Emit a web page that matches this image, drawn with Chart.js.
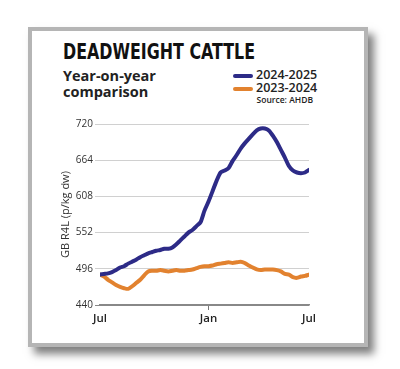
<!DOCTYPE html>
<html><head><meta charset="utf-8">
<script src="https://cdn.jsdelivr.net/npm/chart.js@4.4.1/dist/chart.umd.min.js"></script>
<style>
html,body{margin:0;padding:0;background:#fff;}
body{width:400px;height:369px;position:relative;overflow:hidden;font-family:"Open Sans",sans-serif;}
.card{position:absolute;left:28px;top:27px;width:340px;height:320px;box-sizing:border-box;border:4.5px solid #b5b5b5;background:#fff;box-shadow:6px 7px 8px rgba(0,0,0,0.5);}
#title{position:absolute;left:63px;top:40px;font-weight:bold;font-size:21px;font-family:"Liberation Sans Narrow","DejaVu Sans Condensed",sans-serif;color:#111;white-space:nowrap;transform-origin:0 0;line-height:24px;}
#sub{position:absolute;left:63px;top:68px;font-weight:bold;font-size:14.5px;font-family:"Open Sans",sans-serif;line-height:16px;color:#222;}
.lg{position:absolute;white-space:nowrap;color:#222;}
.sw{position:absolute;width:20px;height:4px;border-radius:2px;}
#src{position:absolute;right:87px;top:94px;font-size:8.5px;font-weight:600;color:#222;white-space:nowrap;}
#wrap{position:absolute;left:40px;top:110px;width:280px;height:225px;}
</style></head>
<body>
<div class="card"></div>
<div id="title">DEADWEIGHT CATTLE</div>
<div id="sub">Year-on-year<br>comparison</div>
<div id="legend"></div>
<div id="src">Source: AHDB</div>
<div id="wrap"><canvas id="c" width="280" height="225"></canvas></div>
<script>
const seriesNames = ['2024-2025', '2023-2024'];
const seriesColors = ['#2d2b87', '#e2822f'];
const xTickPos = [0, 27, 52];
const xTickLabels = ['Jul', 'Jan', 'Jul'];
const yTicks = [440, 496, 552, 608, 664, 720];
const values2425 = [487,488,489,491,494,498,500,504,507,510,514,517,520,522,524,525,527,527,529,534,540,546,552,556,562,568,586,600,616,632,645,648,652,663,672,682,690,697,704,710,713,713,710,702,692,680,668,655,648,645,644,645,649];
const values2324 = [487,484,479,475,471,468,466,465,469,474,479,486,492,493,493,494,493,492,493,494,493,493,494,495,497,499,500,500,501,503,504,505,506,505,506,507,505,501,498,495,494,495,495,495,494,492,488,487,483,482,484,485,487];

// legend
const lg = document.getElementById('legend');
seriesNames.forEach((n,i)=>{
  const top = 74 + i*13.3;
  const sw = document.createElement('div'); sw.className='sw';
  sw.style.left='233px'; sw.style.top=top+'px'; sw.style.background=seriesColors[i];
  lg.appendChild(sw);
  const t = document.createElement('div'); t.className='lg';
  t.style.left='256px'; t.style.top=(top-8)+'px'; t.style.fontSize='12.5px'; t.style.fontWeight='600';
  t.textContent=n; lg.appendChild(t);
});
// fit title width
const ti = document.getElementById('title');
const w = ti.getBoundingClientRect().width;
ti.style.transform = 'scaleX(' + (192/w) + ')';

const ctx = document.getElementById('c').getContext('2d');
new Chart(ctx, {
  type: 'line',
  data: { datasets: [
    { label: seriesNames[0], data: values2425.map((v,i)=>({x:i,y:v})), borderColor: seriesColors[0], borderWidth: 4, pointRadius: 0, tension: 0.25, borderCapStyle:'round', borderJoinStyle:'round' },
    { label: seriesNames[1], data: values2324.map((v,i)=>({x:i,y:v})), borderColor: seriesColors[1], borderWidth: 4, pointRadius: 0, tension: 0.25, borderCapStyle:'round', borderJoinStyle:'round' }
  ]},
  options: {
    responsive: false, animation: false,
    layout: { padding: { left: 10, right: 11, top: 14, bottom: 0 } },
    plugins: { legend: { display: false }, tooltip: { enabled: false } },
    scales: {
      x: {
        type: 'linear', min: 0, max: 52,
        afterBuildTicks: s => { s.ticks = xTickPos.map(v => ({ value: v })); },
        afterFit: s => { s.height = 30; },
        ticks: { callback: v => xTickLabels[xTickPos.indexOf(v)], font: { family: 'Open Sans', size: 11.5, weight: '600' }, color: '#222', padding: 2, maxRotation: 0, autoSkip: false },
        grid: { drawOnChartArea: false, drawTicks: true, tickLength: 5, color: c => c.index === 1 ? '#777' : 'rgba(0,0,0,0)' },
        border: { display: true, color: '#888', width: 1.5 }
      },
      y: {
        min: 440, max: 720,
        afterBuildTicks: s => { s.ticks = yTicks.map(v => ({ value: v })); },
        afterFit: s => { s.width = 50; },
        ticks: { font: { family: 'Open Sans', size: 10 }, color: '#333', padding: 2 },
        grid: { color: c => (c.tick && c.tick.value === 440) ? '#888' : '#d0d0d0', lineWidth: 1, tickLength: 5, drawTicks: true },
        border: { display: false },
        title: { display: true, text: 'GB R4L (p/kg dw)', font: { family: 'Open Sans', size: 11 }, color: '#333', padding: { top: 9, bottom: 0 } }
      }
    }
  }
});
</script>
</body></html>
